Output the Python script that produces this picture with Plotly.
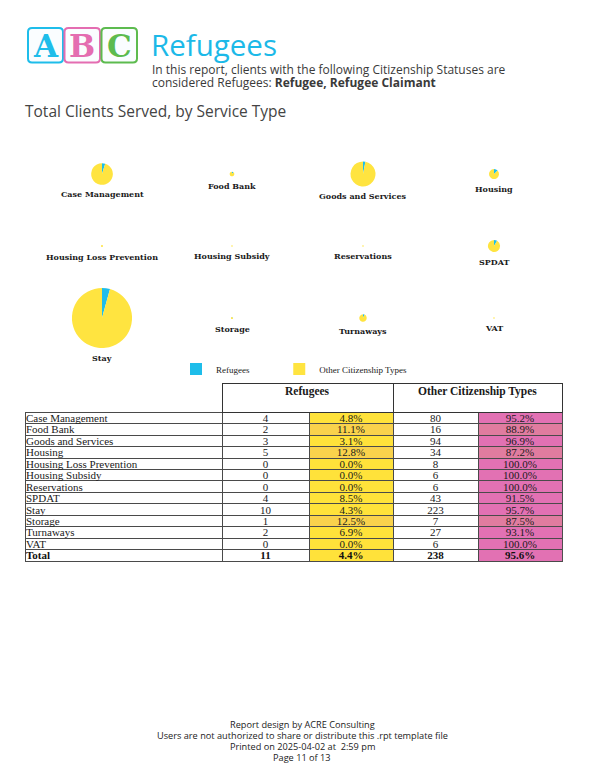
import plotly.graph_objects as go

# page is 604x784; the plot div sits at the page body's 8px margin
PAGE_W, PAGE_H = 604, 784
OFF = 8
FW, FH = PAGE_W - 2 * OFF, PAGE_H - 2 * OFF

# ---------------- data ----------------
services = ["Case Management", "Food Bank", "Goods and Services", "Housing",
            "Housing Loss Prevention", "Housing Subsidy", "Reservations", "SPDAT",
            "Stay", "Storage", "Turnaways", "VAT"]
refugees = [4, 2, 3, 5, 0, 0, 0, 4, 10, 1, 2, 0]
other = [80, 16, 94, 34, 8, 6, 6, 43, 223, 7, 27, 6]
total_refugees = 11
total_other = 238
series_names = ["Refugees", "Other Citizenship Types"]

# ---------------- styles / layout ----------------
CYAN = "#1EBDEA"
YELLOW = "#FFE440"
PINK = "#E271B3"
GREEN = "#5DBB4F"
COL_CX = [102, 232, 363, 494]
ROW_CY = [174, 246, 318]
PX_PER_CLIENT = 0.258
SERIF = "DejaVu Serif"
TSERIF = "Liberation Serif"
SANS = "Open Sans"
NB = "\u00a0"
TRANSP = "rgba(0,0,0,0)"


def px(x):
    return (x - OFF) / FW


def py(y):
    return 1 - (y - OFF) / FH


fig = go.Figure()
annotations = []
shapes = []

# ---------------- pies ----------------
legend_labels = [series_names[0] + NB * 11, series_names[1]]
for i, s in enumerate(services):
    cx = COL_CX[i % 4]
    cy = ROW_CY[i // 4]
    tot = refugees[i] + other[i]
    d = max(tot * PX_PER_CLIENT, 1.0)
    fig.add_trace(go.Pie(
        labels=legend_labels, values=[refugees[i], other[i]],
        sort=False, direction="clockwise", rotation=0,
        textinfo="none", hoverinfo="label+value",
        marker=dict(colors=[CYAN, YELLOW]),
        domain=dict(x=[px(cx - d / 2), px(cx + d / 2)],
                    y=[py(cy + d / 2), py(cy - d / 2)]),
    ))
    annotations.append(dict(
        x=px(cx), y=py(cy + d / 2 + 9.5), xref="paper", yref="paper",
        text=f"<b>{s}</b>", showarrow=False, xanchor="center", yanchor="middle",
        font=dict(family=SERIF, size=8, color="#1a1a1a")))

# ---------------- table ----------------
def pct(a, b):
    return f"{a / (a + b) * 100:.1f}%"


lab_col = [s.replace(" ", NB) for s in services]
ref_col = [str(v) for v in refugees]
refp_col = [pct(a, b) for a, b in zip(refugees, other)]
oth_col = [str(v) for v in other]
othp_col = [pct(b, a) for a, b in zip(refugees, other)]
total_row = ["Total", str(total_refugees), pct(total_refugees, total_other),
             str(total_other), pct(total_other, total_refugees)]

nrows = len(lab_col) + 1
ref_share = [a / (a + b) for a, b in zip(refugees, other)] + \
    [total_refugees / (total_refugees + total_other)]
yfill = ["#F9D24C" if r > 0.1 else "#FFE23A" for r in ref_share]
pfill = ["#E07C9F" if r > 0.1 else PINK for r in ref_share]
white = ["white"] * nrows

TBL_L, TBL_R = 25, 562
TBL_TOP = 383
HDR_H = 29.3
ROW_H = 11.44
TEXT_SHIFT = 6.5
TEXT_PAD = 7
COLW = [197, 87, 84, 85, 84]
COLW_TXT = [COLW[0] + TEXT_PAD] + COLW[1:]
ALIGN = ["left", "center", "center", "center", "center"]

# grid: fills + lines
fig.add_trace(go.Table(
    domain=dict(x=[px(TBL_L), px(TBL_R)], y=[py(640), py(TBL_TOP)]),
    columnwidth=COLW,
    header=dict(values=[""] * 5, height=HDR_H, fill_color=TRANSP,
                line=dict(color=TRANSP, width=1)),
    cells=dict(values=[[""] * nrows] * 5, height=ROW_H,
               fill_color=[white, white, yfill, white, pfill],
               line=dict(color="#4a4a4a", width=1)),
))
# header box
fig.add_trace(go.Table(
    domain=dict(x=[px(TBL_L), px(TBL_R)], y=[py(640), py(TBL_TOP)]),
    columnwidth=[COLW[0], COLW[1] + COLW[2], COLW[3] + COLW[4]],
    header=dict(values=["", "", ""], height=HDR_H, fill_color=TRANSP,
                line=dict(color=[TRANSP, "#333333", "#333333"], width=1)),
    cells=dict(values=[[], [], []], height=1,
               fill_color=TRANSP, line=dict(color=TRANSP)),
))
# text layer: service rows
TXT_DOMAIN = dict(x=[px(TBL_L - TEXT_PAD), px(TBL_R)],
                  y=[py(640), py(TBL_TOP - TEXT_SHIFT)])
fig.add_trace(go.Table(
    domain=TXT_DOMAIN,
    columnwidth=COLW_TXT,
    header=dict(values=[""] * 5, height=HDR_H, fill_color=TRANSP,
                line=dict(color=TRANSP, width=1)),
    cells=dict(values=[lab_col, ref_col, refp_col, oth_col, othp_col],
               height=ROW_H, align=ALIGN,
               fill_color=TRANSP, line=dict(color=TRANSP, width=1),
               font=dict(family=TSERIF, size=11, color="#1a1a1a")),
))
# text layer: total row (bold)
fig.add_trace(go.Table(
    domain=TXT_DOMAIN,
    columnwidth=COLW_TXT,
    header=dict(values=[""] * 5, height=HDR_H + ROW_H * len(lab_col),
                fill_color=TRANSP, line=dict(color=TRANSP, width=1)),
    cells=dict(values=[[v] for v in total_row],
               height=ROW_H, align=ALIGN,
               fill_color=TRANSP, line=dict(color=TRANSP, width=1),
               font=dict(family=TSERIF, size=11, color="#111111", weight="bold")),
))
for (x0, x1, title) in [(222, 392, series_names[0]), (392, 562, series_names[1])]:
    annotations.append(dict(x=px((x0 + x1) / 2), y=py(391), xref="paper", yref="paper",
                            text=f"<b>{title}</b>", showarrow=False,
                            xanchor="center", yanchor="middle",
                            font=dict(family=TSERIF, size=11.5, color="#1a1a1a")))

# ---------------- header / logo ----------------
def rrect(x0, y0, x1, y1, r):
    return (f"M {px(x0 + r)},{py(y0)} L {px(x1 - r)},{py(y0)} "
            f"Q {px(x1)},{py(y0)} {px(x1)},{py(y0 + r)} "
            f"L {px(x1)},{py(y1 - r)} Q {px(x1)},{py(y1)} {px(x1 - r)},{py(y1)} "
            f"L {px(x0 + r)},{py(y1)} Q {px(x0)},{py(y1)} {px(x0)},{py(y1 - r)} "
            f"L {px(x0)},{py(y0 + r)} Q {px(x0)},{py(y0)} {px(x0 + r)},{py(y0)} Z")


for (x0, x1, col, letter) in [(28, 63, CYAN, "A"), (64.5, 100, "#E46DB1", "B"),
                              (101.5, 137, GREEN, "C")]:
    shapes.append(dict(type="path", xref="paper", yref="paper",
                       path=rrect(x0, 28, x1, 62.5, 4),
                       line=dict(color=col, width=2), fillcolor="#FAFDFF"))
    annotations.append(dict(x=px((x0 + x1) / 2), y=py(45.5), xref="paper", yref="paper",
                            text=f"<b>{letter}</b>", showarrow=False,
                            xanchor="center", yanchor="middle",
                            font=dict(family=SERIF, size=31, color=col)))

annotations.append(dict(x=px(149), y=py(44), xref="paper", yref="paper",
                        text="Refugees", showarrow=False, xanchor="left", yanchor="middle",
                        font=dict(family=SANS, size=29.5, color="#1CB9E8")))
annotations.append(dict(x=px(150), y=py(69.5), xref="paper", yref="paper",
                        text="In this report, clients with the following Citizenship Statuses are",
                        showarrow=False, xanchor="left", yanchor="middle",
                        font=dict(family=SANS, size=12, color="#3a3a3a")))
annotations.append(dict(x=px(150), y=py(82.5), xref="paper", yref="paper",
                        text="considered Refugees: <b>Refugee, Refugee Claimant</b>",
                        showarrow=False, xanchor="left", yanchor="middle",
                        font=dict(family=SANS, size=12, color="#3a3a3a")))
annotations.append(dict(x=px(23), y=py(111), xref="paper", yref="paper",
                        text="Total Clients Served, by Service Type",
                        showarrow=False, xanchor="left", yanchor="middle",
                        font=dict(family=SANS, size=15.5, color="#444444")))

# ---------------- footer ----------------
footer = ["Report design by ACRE Consulting",
          "Users are not authorized to share or distribute this .rpt template file",
          "Printed on 2025-04-02 at \u00a02:59 pm",
          "Page 11 of 13"]
for k, line in enumerate(footer):
    annotations.append(dict(x=px(302), y=py(724.5 + 11 * k), xref="paper", yref="paper",
                            text=line, showarrow=False, xanchor="center", yanchor="middle",
                            font=dict(family=SANS, size=9.2, color="#222222")))

fig.update_layout(
    width=FW, height=FH,
    margin=dict(l=0, r=0, t=0, b=0),
    paper_bgcolor="white", plot_bgcolor="white",
    showlegend=True,
    legend=dict(orientation="h", x=px(176), y=py(369), xanchor="left", yanchor="middle",
                font=dict(family=TSERIF, size=9, color="#222222"),
                bgcolor=TRANSP),
    annotations=annotations,
    shapes=shapes,
)

fig.write_html("out.html")
